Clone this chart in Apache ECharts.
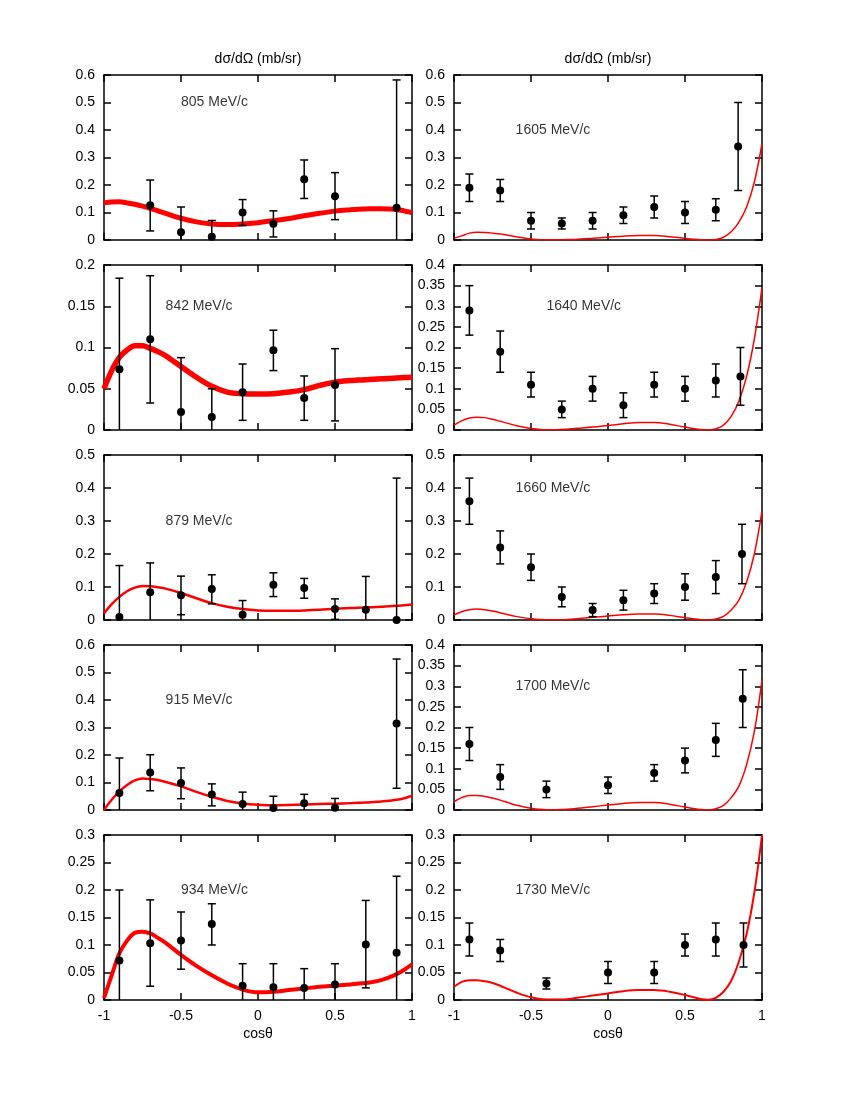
<!DOCTYPE html>
<html>
<head>
<meta charset="utf-8">
<script src="https://cdn.jsdelivr.net/npm/echarts@6/dist/echarts.min.js"></script>
<style>
html, body { margin: 0; padding: 0; background: #fff; }
#chart { width: 850px; height: 1100px; }
</style>
</head>
<body>
<div id="chart"></div>
<script>
// cos(theta) grid the model curves were read on
const cosX = [-1, -0.95, -0.9, -0.85, -0.8, -0.75, -0.7, -0.65, -0.6, -0.5, -0.4, -0.3, -0.2, -0.1, 0, 0.1, 0.2, 0.3, 0.4, 0.5, 0.6, 0.65, 0.7, 0.75, 0.8, 0.85, 0.9, 0.95, 1]

// model curves (red), one value per cosX entry
const fit805 = [0.135, 0.138, 0.139, 0.135, 0.130, 0.123, 0.115, 0.106, 0.097, 0.079, 0.066, 0.058, 0.056, 0.058, 0.063, 0.070, 0.078, 0.088, 0.097, 0.105, 0.110, 0.112, 0.113, 0.114, 0.114, 0.113, 0.111, 0.106, 0.100]
const fit842 = [0.050, 0.072, 0.088, 0.097, 0.102, 0.102, 0.099, 0.095, 0.090, 0.077, 0.064, 0.053, 0.046, 0.044, 0.0435, 0.044, 0.046, 0.049, 0.054, 0.058, 0.060, 0.0605, 0.061, 0.0615, 0.062, 0.0625, 0.063, 0.0635, 0.064]
const fit879 = [0.020, 0.048, 0.070, 0.087, 0.098, 0.103, 0.102, 0.099, 0.095, 0.082, 0.066, 0.051, 0.040, 0.033, 0.029, 0.028, 0.028, 0.029, 0.031, 0.034, 0.036, 0.037, 0.038, 0.039, 0.040, 0.042, 0.043, 0.045, 0.047]
const fit915 = [0.000, 0.037, 0.068, 0.091, 0.108, 0.115, 0.113, 0.109, 0.102, 0.086, 0.066, 0.048, 0.033, 0.024, 0.019, 0.017, 0.018, 0.020, 0.022, 0.023, 0.025, 0.026, 0.027, 0.029, 0.031, 0.034, 0.037, 0.043, 0.052]
const fit934 = [0.004, 0.045, 0.085, 0.108, 0.122, 0.124, 0.121, 0.113, 0.104, 0.082, 0.062, 0.045, 0.030, 0.019, 0.014, 0.015, 0.018, 0.021, 0.024, 0.026, 0.028, 0.030, 0.031, 0.033, 0.036, 0.041, 0.047, 0.055, 0.065]
const fit1605 = [0.006, 0.015, 0.025, 0.028, 0.027, 0.025, 0.022, 0.017, 0.012, 0.004, 0.0005, 0.001, 0.003, 0.006, 0.010, 0.014, 0.016, 0.016, 0.012, 0.006, 0.001, 0.0, 0.002, 0.010, 0.030, 0.065, 0.120, 0.210, 0.350]
const fit1640 = [0.012, 0.022, 0.029, 0.031, 0.030, 0.026, 0.021, 0.016, 0.011, 0.004, 0.0005, 0.001, 0.004, 0.007, 0.011, 0.015, 0.018, 0.018, 0.014, 0.007, 0.001, 0.0, 0.003, 0.012, 0.033, 0.070, 0.130, 0.220, 0.345]
const fit1660 = [0.015, 0.025, 0.031, 0.033, 0.031, 0.027, 0.022, 0.016, 0.011, 0.004, 0.0005, 0.001, 0.004, 0.008, 0.012, 0.016, 0.018, 0.018, 0.014, 0.007, 0.001, 0.0, 0.003, 0.011, 0.030, 0.060, 0.115, 0.200, 0.330]
const fit1700 = [0.020, 0.030, 0.035, 0.035, 0.033, 0.029, 0.024, 0.018, 0.012, 0.004, 0.0005, 0.001, 0.004, 0.008, 0.012, 0.016, 0.018, 0.018, 0.014, 0.007, 0.001, 0.0, 0.003, 0.011, 0.030, 0.058, 0.110, 0.190, 0.315]
const fit1730 = [0.024, 0.033, 0.036, 0.036, 0.034, 0.031, 0.026, 0.020, 0.014, 0.005, 0.001, 0.001, 0.004, 0.008, 0.012, 0.016, 0.018, 0.018, 0.015, 0.009, 0.002, 0.0005, 0.004, 0.015, 0.035, 0.070, 0.120, 0.195, 0.300]

// measured points: cos(theta), value, lower and upper end of the error bar (0 = bar runs into the axis)
const x805 = [-0.7, -0.5, -0.3, -0.1, 0.1, 0.3, 0.5, 0.9]
const y805 = [0.126, 0.028, 0.012, 0.100, 0.059, 0.221, 0.159, 0.117]
const lo805 = [0.033, 0, 0, 0.053, 0.011, 0.151, 0.074, 0]
const hi805 = [0.218, 0.120, 0.071, 0.147, 0.106, 0.291, 0.245, 0.582]

const x842 = [-0.9, -0.7, -0.5, -0.3, -0.1, 0.1, 0.3, 0.5]
const y842 = [0.0735, 0.110, 0.0218, 0.0158, 0.0457, 0.0966, 0.0388, 0.0545]
const lo842 = [0, 0.0327, 0, 0, 0.0117, 0.072, 0.0117, 0.011]
const hi842 = [0.184, 0.187, 0.0877, 0.050, 0.080, 0.121, 0.0655, 0.0986]

const x879 = [-0.9, -0.7, -0.5, -0.3, -0.1, 0.1, 0.3, 0.5, 0.7, 0.9]
const y879 = [0.009, 0.084, 0.075, 0.094, 0.016, 0.107, 0.097, 0.033, 0.031, 0.0]
const lo879 = [0, 0, 0.016, 0.049, 0, 0.071, 0.066, 0.002, 0, 0]
const hi879 = [0.165, 0.173, 0.133, 0.137, 0.059, 0.143, 0.126, 0.064, 0.132, 0.43]

const x915 = [-0.9, -0.7, -0.5, -0.3, -0.1, 0.1, 0.3, 0.5, 0.9]
const y915 = [0.062, 0.136, 0.098, 0.056, 0.022, 0.007, 0.025, 0.008, 0.315]
const lo915 = [0, 0.070, 0.041, 0.015, 0, 0, 0, 0, 0.079]
const hi915 = [0.189, 0.201, 0.153, 0.095, 0.065, 0.050, 0.057, 0.042, 0.549]

const x934 = [-0.9, -0.7, -0.5, -0.3, -0.1, 0.1, 0.3, 0.5, 0.7, 0.9]
const y934 = [0.072, 0.103, 0.108, 0.138, 0.026, 0.023, 0.022, 0.028, 0.101, 0.086]
const lo934 = [0, 0.025, 0.056, 0.100, 0, 0, 0, 0, 0.022, 0]
const hi934 = [0.200, 0.182, 0.160, 0.175, 0.066, 0.066, 0.057, 0.066, 0.181, 0.225]

const x1605 = [-0.9, -0.7, -0.5, -0.3, -0.1, 0.1, 0.3, 0.5, 0.7, 0.845]
const y1605 = [0.19, 0.18, 0.07, 0.06, 0.07, 0.09, 0.12, 0.10, 0.11, 0.34]
const lo1605 = [0.14, 0.14, 0.04, 0.04, 0.04, 0.06, 0.08, 0.06, 0.07, 0.18]
const hi1605 = [0.24, 0.22, 0.10, 0.08, 0.10, 0.12, 0.16, 0.14, 0.15, 0.50]

const x1640 = [-0.9, -0.7, -0.5, -0.3, -0.1, 0.1, 0.3, 0.5, 0.7, 0.86]
const y1640 = [0.29, 0.19, 0.11, 0.05, 0.10, 0.06, 0.11, 0.10, 0.12, 0.13]
const lo1640 = [0.23, 0.14, 0.08, 0.03, 0.07, 0.03, 0.08, 0.07, 0.08, 0.06]
const hi1640 = [0.35, 0.24, 0.14, 0.07, 0.13, 0.09, 0.14, 0.13, 0.16, 0.20]

const x1660 = [-0.9, -0.7, -0.5, -0.3, -0.1, 0.1, 0.3, 0.5, 0.7, 0.87]
const y1660 = [0.36, 0.22, 0.16, 0.07, 0.03, 0.06, 0.08, 0.10, 0.13, 0.20]
const lo1660 = [0.29, 0.17, 0.12, 0.04, 0.01, 0.03, 0.05, 0.06, 0.08, 0.11]
const hi1660 = [0.43, 0.27, 0.20, 0.10, 0.05, 0.09, 0.11, 0.14, 0.18, 0.29]

const x1700 = [-0.9, -0.7, -0.4, 0, 0.3, 0.5, 0.7, 0.875]
const y1700 = [0.16, 0.08, 0.05, 0.06, 0.09, 0.12, 0.17, 0.27]
const lo1700 = [0.12, 0.05, 0.03, 0.04, 0.07, 0.09, 0.13, 0.20]
const hi1700 = [0.20, 0.11, 0.07, 0.08, 0.11, 0.15, 0.21, 0.34]

const x1730 = [-0.9, -0.7, -0.4, 0, 0.3, 0.5, 0.7, 0.88]
const y1730 = [0.11, 0.09, 0.03, 0.05, 0.05, 0.10, 0.11, 0.10]
const lo1730 = [0.08, 0.07, 0.02, 0.03, 0.03, 0.08, 0.08, 0.06]
const hi1730 = [0.14, 0.11, 0.04, 0.07, 0.07, 0.12, 0.14, 0.14]

const xTitle = 'cosθ'
const yTitle = 'dσ/dΩ (mb/sr)'

// panel setup: column, row, y range, where the momentum label sits (data coords)
const panels = [
  { name: '805 MeV/c', col: 0, row: 0, ymax: 0.6, step: 0.1, tag: [-0.5, 0.5], fit: fit805, lw: 5, x: x805, y: y805, lo: lo805, hi: hi805 },
  { name: '842 MeV/c', col: 0, row: 1, ymax: 0.2, step: 0.05, tag: [-0.6, 0.15], fit: fit842, lw: 5.5, x: x842, y: y842, lo: lo842, hi: hi842 },
  { name: '879 MeV/c', col: 0, row: 2, ymax: 0.5, step: 0.1, tag: [-0.6, 0.3], fit: fit879, lw: 2.5, x: x879, y: y879, lo: lo879, hi: hi879 },
  { name: '915 MeV/c', col: 0, row: 3, ymax: 0.6, step: 0.1, tag: [-0.6, 0.4], fit: fit915, lw: 2.5, x: x915, y: y915, lo: lo915, hi: hi915 },
  { name: '934 MeV/c', col: 0, row: 4, ymax: 0.3, step: 0.05, tag: [-0.5, 0.2], fit: fit934, lw: 4, x: x934, y: y934, lo: lo934, hi: hi934 },
  { name: '1605 MeV/c', col: 1, row: 0, ymax: 0.6, step: 0.1, tag: [-0.6, 0.4], fit: fit1605, lw: 1.5, x: x1605, y: y1605, lo: lo1605, hi: hi1605 },
  { name: '1640 MeV/c', col: 1, row: 1, ymax: 0.4, step: 0.05, tag: [-0.4, 0.3], fit: fit1640, lw: 1.5, x: x1640, y: y1640, lo: lo1640, hi: hi1640 },
  { name: '1660 MeV/c', col: 1, row: 2, ymax: 0.5, step: 0.1, tag: [-0.6, 0.4], fit: fit1660, lw: 1.5, x: x1660, y: y1660, lo: lo1660, hi: hi1660 },
  { name: '1700 MeV/c', col: 1, row: 3, ymax: 0.4, step: 0.05, tag: [-0.6, 0.3], fit: fit1700, lw: 1.5, x: x1700, y: y1700, lo: lo1700, hi: hi1700 },
  { name: '1730 MeV/c', col: 1, row: 4, ymax: 0.3, step: 0.05, tag: [-0.6, 0.2], fit: fit1730, lw: 2, x: x1730, y: y1730, lo: lo1730, hi: hi1730 }
]

const FONT = 'Liberation Sans, Arial, Helvetica, sans-serif'
const FS = 14
const black = { color: '#000', width: 1.5 }

function renderErr(params, api) {
  const cs = params.coordSys
  const top = api.coord([api.value(0), api.value(2)])
  const bot = api.coord([api.value(0), api.value(1)])
  const yMin = cs.y, yMax = cs.y + cs.height
  const x = top[0]
  const y1 = Math.max(top[1], yMin)
  const y2 = Math.min(bot[1], yMax)
  const st = { stroke: '#000', lineWidth: 1.5 }
  const ch = [{ type: 'line', shape: { x1: x, y1: y1, x2: x, y2: y2 }, style: st }]
  if (top[1] >= yMin) ch.push({ type: 'line', shape: { x1: x - 4, y1: top[1], x2: x + 4, y2: top[1] }, style: st })
  if (bot[1] < yMax - 0.3) ch.push({ type: 'line', shape: { x1: x - 4, y1: bot[1], x2: x + 4, y2: bot[1] }, style: st })
  return { type: 'group', children: ch }
}

const grid = [], xAxis = [], yAxis = [], series = []

panels.forEach((p, i) => {
  grid.push({ left: p.col ? 454 : 104, top: 75 + 190 * p.row, width: 308, height: 165 })

  const xBase = {
    gridIndex: i, type: 'value', min: -1, max: 1, interval: 0.5,
    axisLine: { onZero: false, lineStyle: black },
    axisTick: { inside: true, length: 7, lineStyle: black },
    splitLine: { show: false },
    nameLocation: 'middle',
    nameTextStyle: { color: '#000', fontSize: FS, fontFamily: FONT }
  }
  xAxis.push(Object.assign({}, xBase, {
    position: 'bottom',
    axisLabel: { show: p.row === 4, color: '#000', fontSize: FS, fontFamily: FONT, margin: 9 },
    name: p.row === 4 ? xTitle : '',
    nameGap: 27
  }))
  xAxis.push(Object.assign({}, xBase, {
    position: 'top',
    axisLabel: { show: false },
    name: p.row === 0 ? yTitle : '',
    nameGap: 9
  }))

  const yBase = {
    gridIndex: i, type: 'value', min: 0, max: p.ymax, interval: p.step,
    axisLine: { onZero: false, lineStyle: black },
    axisTick: { inside: true, length: 7, lineStyle: black },
    splitLine: { show: false }
  }
  yAxis.push(Object.assign({}, yBase, {
    position: 'left',
    axisLabel: { color: '#000', fontSize: FS, fontFamily: FONT, margin: 9 }
  }))
  yAxis.push(Object.assign({}, yBase, { position: 'right', axisLabel: { show: false } }))

  const xi = 2 * i, yi = 2 * i

  series.push({
    type: 'line', xAxisIndex: xi, yAxisIndex: yi, z: 2,
    data: cosX.map((c, k) => [c, p.fit[k]]),
    smooth: 0.35, showSymbol: false, silent: true,
    lineStyle: { color: '#ff0000', width: p.lw }
  })
  series.push({
    type: 'custom', xAxisIndex: xi, yAxisIndex: yi, z: 3, silent: true, clip: false,
    renderItem: renderErr,
    encode: { x: 0, y: [1, 2] },
    data: p.x.map((c, k) => [c, p.lo[k], p.hi[k]])
  })
  series.push({
    type: 'scatter', xAxisIndex: xi, yAxisIndex: yi, z: 4, silent: true,
    symbol: 'circle', symbolSize: 8, itemStyle: { color: '#000', opacity: 1 },
    data: p.x.map((c, k) => [c, p.y[k]])
  })
  series.push({
    type: 'scatter', xAxisIndex: xi, yAxisIndex: yi, z: 5, silent: true,
    symbolSize: 0, data: [p.tag],
    label: { show: true, position: 'right', distance: 0, formatter: p.name, color: '#000', fontSize: FS, fontFamily: FONT }
  })
})

const chart = echarts.init(document.getElementById('chart'))
chart.setOption({
  animation: false,
  backgroundColor: '#fff',
  grid: grid,
  xAxis: xAxis,
  yAxis: yAxis,
  series: series
})
</script>
</body>
</html>
